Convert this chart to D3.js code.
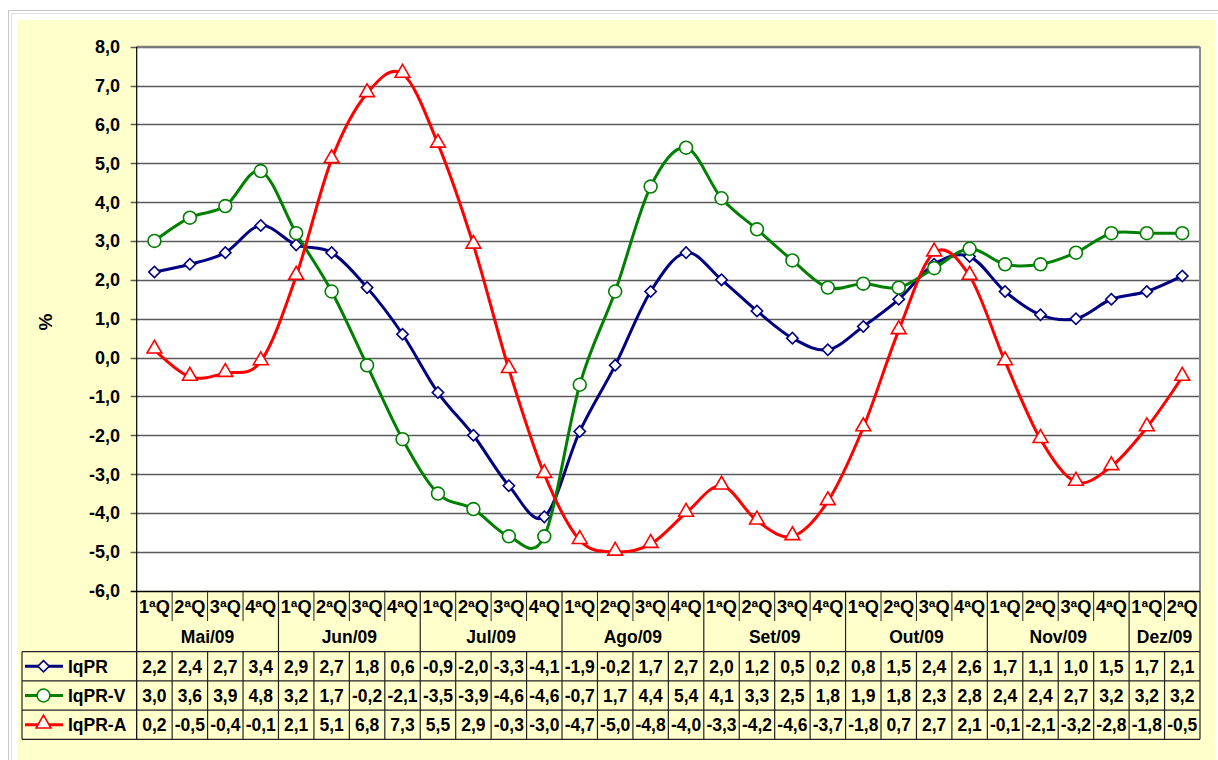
<!DOCTYPE html>
<html>
<head>
<meta charset="utf-8">
<script src="https://cdn.jsdelivr.net/npm/d3@7"></script>
<style>
  body { margin: 0; background: #fff; }
  svg { display: block; font-family: Arial, "Liberation Sans", sans-serif; font-weight: bold; }
</style>
</head>
<body>
<div class="chart"></div>
<script>
// Data
var months = ["Mai/09", "Jun/09", "Jul/09", "Ago/09", "Set/09", "Out/09", "Nov/09", "Dez/09"];
var quartersPerMonth = [4, 4, 4, 4, 4, 4, 4, 2];
var seriesNames = ["IqPR", "IqPR-V", "IqPR-A"];
var iqpr  = [2.2, 2.4, 2.7, 3.4, 2.9, 2.7, 1.8, 0.6, -0.9, -2.0, -3.3, -4.1, -1.9, -0.2, 1.7, 2.7, 2.0, 1.2, 0.5, 0.2, 0.8, 1.5, 2.4, 2.6, 1.7, 1.1, 1.0, 1.5, 1.7, 2.1];
var iqprV = [3.0, 3.6, 3.9, 4.8, 3.2, 1.7, -0.2, -2.1, -3.5, -3.9, -4.6, -4.6, -0.7, 1.7, 4.4, 5.4, 4.1, 3.3, 2.5, 1.8, 1.9, 1.8, 2.3, 2.8, 2.4, 2.4, 2.7, 3.2, 3.2, 3.2];
var iqprA = [0.2, -0.5, -0.4, -0.1, 2.1, 5.1, 6.8, 7.3, 5.5, 2.9, -0.3, -3.0, -4.7, -5.0, -4.8, -4.0, -3.3, -4.2, -4.6, -3.7, -1.8, 0.7, 2.7, 2.1, -0.1, -2.1, -3.2, -2.8, -1.8, -0.5];
var yTicks = [-6, -5, -4, -3, -2, -1, 0, 1, 2, 3, 4, 5, 6, 7, 8];

var svgWidth = 1218;
var svgHeight = 760;

var plot = { left: 136.7, right: 1200, top: 46.7, bottom: 590.7 };
var table = { left: 22, catRow: 621, monthRow: 651.7, rowH: 29.2 };

var colors = ["#000080", "#008000", "#ff0000"];
// diamond = square turned 45 degrees, as in the original
var shapes = [d3.symbolSquare, d3.symbolCircle, d3.symbolTriangle];
var markerSizes = [64, 130, 95];
var markerRotate = [45, 0, 0];
var markerDy = [0, 0, -1];
var seriesValues = [iqpr, iqprV, iqprA];

// categories: one per quarter
var categories = [];
months.forEach((m, mi) => {
  for (var q = 1; q <= quartersPerMonth[mi]; q++) {
    categories.push({ month: m, monthIndex: mi, label: q + "ªQ", q: q });
  }
});

var fmt = d3.formatLocale({ decimal: ",", thousands: ".", grouping: [3], currency: ["", ""], minus: "-" }).format(".1f");

var svg = d3.select(".chart")
  .append("svg")
  .attr("width", svgWidth)
  .attr("height", svgHeight);

// outer frame
svg.append("rect").attr("x", 8.5).attr("y", 10.5).attr("width", 1300).attr("height", 800)
  .attr("fill", "none").attr("stroke", "#c8c8c8");
svg.append("rect").attr("x", 11.5).attr("y", 13.5).attr("width", 1300).attr("height", 800)
  .attr("fill", "none").attr("stroke", "#e0e0e0");
svg.append("rect").attr("x", 17).attr("y", 20).attr("width", 1198).attr("height", 760)
  .attr("fill", "#ffffcc");

var xScale = d3.scaleBand()
  .domain(d3.range(categories.length))
  .range([plot.left, plot.right]);
var bw = xScale.bandwidth();
var xc = i => xScale(i) + bw / 2;

var yScale = d3.scaleLinear()
  .domain([-6, 8])
  .range([plot.bottom, plot.top]);

// plot background
svg.append("rect")
  .attr("x", plot.left).attr("y", plot.top)
  .attr("width", plot.right - plot.left).attr("height", plot.bottom - plot.top)
  .attr("fill", "#fff");

// gridlines
svg.append("g").selectAll("line")
  .data(yTicks)
  .enter()
  .append("line")
  .attr("x1", plot.left - 6).attr("x2", plot.right)
  .attr("y1", d => Math.round(yScale(d)) + 0.5).attr("y2", d => Math.round(yScale(d)) + 0.5)
  .attr("stroke", d => d === -6 ? "#000" : "#5a5a5a")
  .attr("stroke-width", 1.3);

// right and top border of the plot
svg.append("line")
  .attr("x1", plot.right).attr("x2", plot.right)
  .attr("y1", plot.top).attr("y2", plot.bottom)
  .attr("stroke", "#8a8a8a").attr("stroke-width", 2);
svg.append("line")
  .attr("x1", plot.left).attr("x2", plot.right)
  .attr("y1", plot.top).attr("y2", plot.top)
  .attr("stroke", "#808080").attr("stroke-width", 2);

// y axis labels
svg.append("g").selectAll("text")
  .data(yTicks)
  .enter()
  .append("text")
  .attr("x", 120)
  .attr("y", d => yScale(d))
  .attr("dy", "0.36em")
  .attr("text-anchor", "end")
  .attr("font-size", "18px")
  .text(d => fmt(d));

svg.append("text")
  .attr("transform", "translate(52, 322) rotate(-90)")
  .attr("text-anchor", "middle")
  .attr("font-size", "19px")
  .text("%");

// table lines
var tableBottom = table.monthRow + 3 * table.rowH;
var grid = svg.append("g").attr("stroke", "#222").attr("stroke-width", 1.2);

// vertical lines in header (quarter separators short, month separators full)
categories.forEach((c, i) => {
  if (i === 0) return;
  var x = xScale(i);
  var isMonthStart = c.q === 1;
  grid.append("line")
    .attr("x1", x).attr("x2", x)
    .attr("y1", plot.bottom)
    .attr("y2", isMonthStart ? tableBottom : table.catRow)
    .attr("stroke-width", isMonthStart ? 1.2 : 1);
  if (!isMonthStart) {
    grid.append("line")
      .attr("x1", x).attr("x2", x)
      .attr("y1", table.monthRow).attr("y2", tableBottom);
  }
});
// left and right edges
grid.append("line").attr("x1", plot.left).attr("x2", plot.left)
  .attr("y1", plot.top).attr("y2", tableBottom).attr("stroke", "#000");
grid.append("line").attr("x1", plot.right).attr("x2", plot.right)
  .attr("y1", plot.bottom).attr("y2", tableBottom);
grid.append("line").attr("x1", table.left).attr("x2", table.left)
  .attr("y1", table.monthRow).attr("y2", tableBottom);
// horizontal rows
d3.range(4).forEach(r => {
  var y = table.monthRow + r * table.rowH;
  grid.append("line").attr("x1", table.left).attr("x2", plot.right)
    .attr("y1", y).attr("y2", y);
});

// quarter labels
svg.append("g").selectAll("text")
  .data(categories)
  .enter()
  .append("text")
  .attr("x", (d, i) => xc(i))
  .attr("y", 607)
  .attr("dy", "0.36em")
  .attr("text-anchor", "middle")
  .attr("font-size", "17.5px")
  .attr("textLength", 31)
  .attr("lengthAdjust", "spacingAndGlyphs")
  .text(d => d.label);

// month labels
svg.append("g").selectAll("text")
  .data(months)
  .enter()
  .append("text")
  .attr("x", (d, mi) => {
    var idx = d3.range(categories.length).filter(i => categories[i].monthIndex === mi);
    return (xScale(idx[0]) + xScale(idx[idx.length - 1]) + bw) / 2;
  })
  .attr("y", 637)
  .attr("dy", "0.36em")
  .attr("text-anchor", "middle")
  .attr("font-size", "17.5px")
  .text(d => d);

// series lines and markers
var line = d3.line()
  .x((d, i) => xc(i))
  .y(d => yScale(d))
  .curve(d3.curveCatmullRom.alpha(0));

function marker(sel, s) {
  sel.attr("d", d3.symbol().type(shapes[s]).size(markerSizes[s]))
    .attr("fill", "#fff")
    .attr("stroke", colors[s])
    .attr("stroke-width", 1.6);
}

seriesValues.forEach((vals, s) => {
  var g = svg.append("g");
  g.append("path")
    .datum(vals)
    .attr("d", line)
    .attr("fill", "none")
    .attr("stroke", colors[s])
    .attr("stroke-width", 3);
  g.selectAll("path.marker")
    .data(vals)
    .enter()
    .append("path")
    .attr("class", "marker")
    .call(marker, s)
    .attr("transform", (d, i) => `translate(${xc(i)}, ${yScale(d) + markerDy[s]}) rotate(${markerRotate[s]})`);
});

// table rows: legend + values
seriesValues.forEach((vals, s) => {
  var cy = table.monthRow + s * table.rowH + table.rowH / 2;
  svg.append("line")
    .attr("x1", 25).attr("x2", 63)
    .attr("y1", cy).attr("y2", cy)
    .attr("stroke", colors[s]).attr("stroke-width", 3);
  svg.append("path")
    .call(marker, s)
    .attr("transform", `translate(43.5, ${cy + markerDy[s]}) rotate(${markerRotate[s]})`);
  svg.append("text")
    .attr("x", 68)
    .attr("y", cy)
    .attr("dy", "0.36em")
    .attr("font-size", "17.5px")
    .text(seriesNames[s]);
  svg.append("g").selectAll("text")
    .data(vals)
    .enter()
    .append("text")
    .attr("x", (d, i) => xc(i))
    .attr("y", cy)
    .attr("dy", "0.36em")
    .attr("text-anchor", "middle")
    .attr("font-size", "17.5px")
    .text(d => fmt(d));
});
</script>
</body>
</html>
